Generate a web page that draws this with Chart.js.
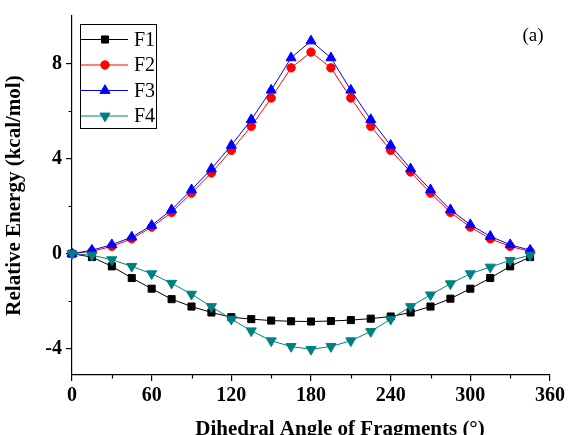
<!DOCTYPE html>
<html>
<head>
<meta charset="utf-8">
<script src="https://cdn.jsdelivr.net/npm/chart.js@4.4.0/dist/chart.umd.min.js"></script>
<style>
    html, body { margin: 0; padding: 0; background: #fff; }
    #wrap { width: 568px; height: 435px; }
</style>
</head>
<body>
<div id="wrap"><canvas id="energyChart" width="568" height="435"></canvas></div>
<script>
// dihedral angles (deg)
const angles = [0, 15, 30, 45, 60, 75, 90, 105, 120, 135, 150, 165, 180,
                195, 210, 225, 240, 255, 270, 285, 300, 315, 330, 345];

// relative energies (kcal/mol)
const f1 = [0, -0.14, -0.53, -1.02, -1.47, -1.91, -2.22, -2.47, -2.67, -2.75, -2.81, -2.84, -2.85,
            -2.83, -2.79, -2.73, -2.64, -2.47, -2.22, -1.89, -1.47, -1.02, -0.53, -0.14];
const f2 = [0, 0.10, 0.31, 0.63, 1.12, 1.74, 2.55, 3.40, 4.35, 5.36, 6.55, 7.82, 8.48,
            7.82, 6.55, 5.36, 4.35, 3.44, 2.55, 1.74, 1.12, 0.63, 0.31, 0.10];
const f3 = [0, 0.15, 0.38, 0.70, 1.19, 1.85, 2.69, 3.57, 4.56, 5.64, 6.88, 8.24, 8.95,
            8.24, 6.88, 5.64, 4.56, 3.57, 2.69, 1.85, 1.22, 0.73, 0.38, 0.15];
const f4 = [0, -0.06, -0.25, -0.53, -0.84, -1.24, -1.70, -2.22, -2.75, -3.24, -3.66, -3.90, -4.02,
            -3.90, -3.66, -3.27, -2.75, -2.22, -1.73, -1.26, -0.84, -0.56, -0.28, -0.06];

// axis ticks
const xMajorTicks = [0, 60, 120, 180, 240, 300, 360];
const xMinorTicks = [30, 90, 150, 210, 270, 330];
const yMajorTicks = [-4, 0, 4, 8];
const yMinorTicks = [-2, 2, 6];

const xTitle = 'Dihedral Angle of Fragments (°)';
const serif = '"Liberation Serif", "Times New Roman", serif';

function toPoints(ys) {
    return angles.map((a, i) => ({ x: a, y: ys[i] }));
}

// minor tick marks + x axis title (sits right of centre in the original)
const minorTicks = {
    id: 'minorTicks',
    afterDraw(chart) {
        const ctx = chart.ctx;
        const xs = chart.scales.x;
        const ys = chart.scales.y;
        const area = chart.chartArea;
        ctx.save();
        ctx.strokeStyle = '#000';
        ctx.lineWidth = 1.2;
        ctx.beginPath();
        xMinorTicks.forEach(v => {
            const px = Math.round(xs.getPixelForValue(v)) + 0.5;
            ctx.moveTo(px, area.bottom);
            ctx.lineTo(px, area.bottom + 3.5);
        });
        yMinorTicks.forEach(v => {
            const py = Math.round(ys.getPixelForValue(v)) + 0.5;
            ctx.moveTo(area.left, py);
            ctx.lineTo(area.left - 3.5, py);
        });
        ctx.stroke();

        ctx.fillStyle = '#000';
        ctx.font = 'bold 21px ' + serif;
        ctx.textAlign = 'center';
        ctx.textBaseline = 'alphabetic';
        ctx.fillText(xTitle, xs.getPixelForValue(180) + 29, 435);
        ctx.restore();
    }
};

// boxed legend inside the plot + panel label
const legendBox = {
    id: 'legendBox',
    afterDatasetsDraw(chart) {
        const ctx = chart.ctx;
        ctx.save();
        ctx.strokeStyle = '#000';
        ctx.lineWidth = 1;
        ctx.strokeRect(80.5, 24.5, 76, 104);
        chart.data.datasets.forEach((ds, i) => {
            const y = 39.5 + i * 25.5;
            ctx.strokeStyle = ds.borderColor;
            ctx.lineWidth = 1;
            ctx.beginPath();
            ctx.moveTo(81, y);
            ctx.lineTo(128, y);
            ctx.stroke();
            ctx.fillStyle = ds.pointBackgroundColor;
            ctx.strokeStyle = ds.pointBorderColor;
            Chart.helpers.drawPoint(ctx, {
                pointStyle: ds.pointStyle,
                radius: ds.pointRadius,
                rotation: ds.pointRotation || 0,
                borderWidth: 1
            }, 105, y);
            ctx.fillStyle = '#000';
            ctx.font = '20px ' + serif;
            ctx.textAlign = 'left';
            ctx.textBaseline = 'middle';
            ctx.fillText(ds.label, 134, y + 1);
        });
        ctx.font = '19px ' + serif;
        ctx.textAlign = 'center';
        ctx.fillText('(a)', 533, 36);
        ctx.restore();
    }
};

const ctx = document.getElementById('energyChart').getContext('2d');

new Chart(ctx, {
    type: 'line',
    data: {
        datasets: [
            {
                label: 'F1', data: toPoints(f1), order: 3,
                borderColor: '#000000', pointBackgroundColor: '#000000', pointBorderColor: '#000000',
                pointStyle: 'rect', pointRadius: 5
            },
            {
                label: 'F2', data: toPoints(f2), order: 2,
                borderColor: '#ff0000', pointBackgroundColor: '#ff0000', pointBorderColor: '#ff0000',
                pointStyle: 'circle', pointRadius: 4.2
            },
            {
                label: 'F3', data: toPoints(f3), order: 1,
                borderColor: '#0000ff', pointBackgroundColor: '#0000ff', pointBorderColor: '#0000ff',
                pointStyle: 'triangle', pointRadius: 5.8
            },
            {
                label: 'F4', data: toPoints(f4), order: 0,
                borderColor: '#008080', pointBackgroundColor: '#008080', pointBorderColor: '#008080',
                pointStyle: 'triangle', pointRotation: 180, pointRadius: 5.8
            }
        ]
    },
    options: {
        responsive: false,
        animation: false,
        devicePixelRatio: 1,
        layout: { padding: { top: 16, right: 16, left: 0, bottom: 0 } },
        elements: {
            line: { borderWidth: 1, tension: 0 },
            point: { borderWidth: 1 }
        },
        datasets: { line: { clip: false } },
        plugins: {
            legend: { display: false },
            tooltip: { enabled: false }
        },
        scales: {
            x: {
                type: 'linear',
                min: 0,
                max: 360,
                afterBuildTicks: scale => { scale.ticks = xMajorTicks.map(v => ({ value: v })); },
                afterFit: scale => { scale.height = 60; },
                border: { display: true, color: '#000', width: 1.2 },
                grid: { display: true, drawOnChartArea: false, drawTicks: true, tickLength: 6, color: '#000', lineWidth: 1.2 },
                ticks: {
                    color: '#000',
                    padding: 3,
                    maxRotation: 0,
                    font: { family: serif, size: 20, weight: 'bold' }
                },
                title: { display: false }
            },
            y: {
                min: -5.1,
                max: 10,
                afterBuildTicks: scale => { scale.ticks = yMajorTicks.map(v => ({ value: v })); },
                afterFit: scale => { scale.width = 72; },
                border: { display: true, color: '#000', width: 1.2 },
                grid: { display: true, drawOnChartArea: false, drawTicks: true, tickLength: 6, color: '#000', lineWidth: 1.2 },
                ticks: {
                    color: '#000',
                    padding: 4,
                    font: { family: serif, size: 20, weight: 'bold' }
                },
                title: {
                    display: true,
                    text: 'Relative Energy (kcal/mol)',
                    color: '#000',
                    padding: { left: 11, right: 0 },
                    font: { family: serif, size: 21, weight: 'bold', lineHeight: 1 }
                }
            }
        }
    },
    plugins: [minorTicks, legendBox]
});
</script>
</body>
</html>
